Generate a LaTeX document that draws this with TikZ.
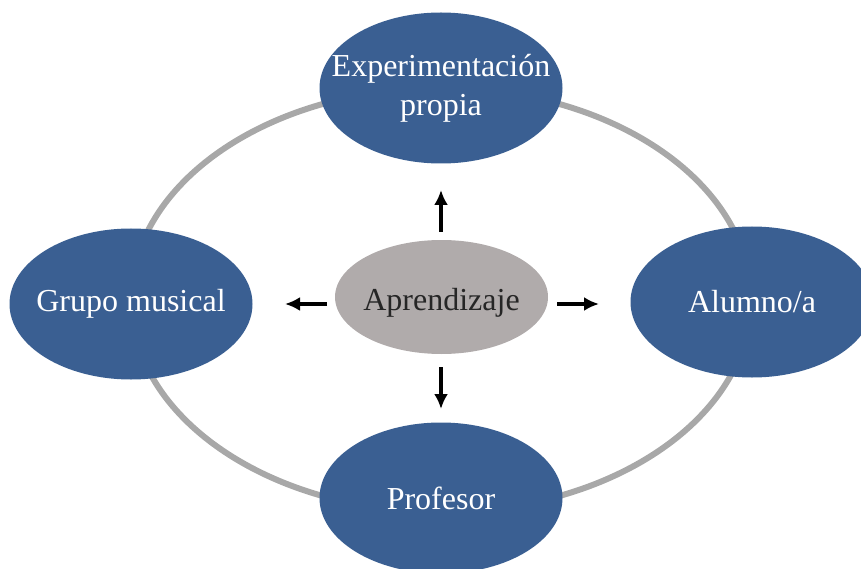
\documentclass[tikz,border=0pt]{standalone}
\usepackage{fontspec}
\setmainfont{Liberation Serif}
\usetikzlibrary{shapes.geometric,arrows.meta}
\definecolor{nodeblue}{HTML}{3A5F92}
\definecolor{ringgray}{HTML}{A8A8A8}
\definecolor{coregray}{HTML}{B0ABAB}
\definecolor{coretext}{HTML}{262626}
\tikzset{
  outer/.style={ellipse, fill=nodeblue, inner sep=0pt,
    minimum width=243pt, minimum height=151pt},
  outertext/.style={text=white, align=center, inner sep=0pt,
    font=\fontsize{32}{39}\selectfont},
  core/.style={ellipse, fill=coregray, inner sep=0pt,
    minimum width=213pt, minimum height=114pt},
  coretxt/.style={text=coretext, inner sep=0pt, yshift=-6pt,
    font=\fontsize{32}{39}\selectfont},
  ring/.style={draw=ringgray, line width=6pt},
  push/.style={line width=3.5pt, draw=black, -{Latex[length=15pt,width=14pt]}}
}
\begin{document}
\begin{tikzpicture}[x=1pt,y=-1pt]
  \useasboundingbox (0,0) rectangle (861,569);
  % ring joining the four outer ideas
  \draw[ring] (441,300) ellipse [x radius=310, y radius=212];
  % outer ideas, each label centred on its ellipse
  \node[outer, label={[outertext]center:Experimentación\\propia}] (exp) at (441,88) {};
  \node[outer, label={[outertext]center:Grupo musical}] (grupo) at (131,304) {};
  \node[outer, label={[outertext]center:Alumno/a}] (alumno) at (752,302) {};
  \node[outer, label={[outertext]center:Profesor}] (prof) at (441,498) {};
  % central idea
  \node[core, label={[coretxt]center:Aprendizaje}] (apr) at (441.5,297) {};
  % arrow ends around the central idea
  \coordinate (upA) at (441,232);   \coordinate (upB) at (441,190);
  \coordinate (dnA) at (441,367);   \coordinate (dnB) at (441,409);
  \coordinate (ltA) at (327,304);   \coordinate (ltB) at (285,304);
  \coordinate (rtA) at (557,304);   \coordinate (rtB) at (599,304);
  \draw[push] (upA) -- (upB);
  \draw[push] (dnA) -- (dnB);
  \draw[push] (ltA) -- (ltB);
  \draw[push] (rtA) -- (rtB);
\end{tikzpicture}
\end{document}
